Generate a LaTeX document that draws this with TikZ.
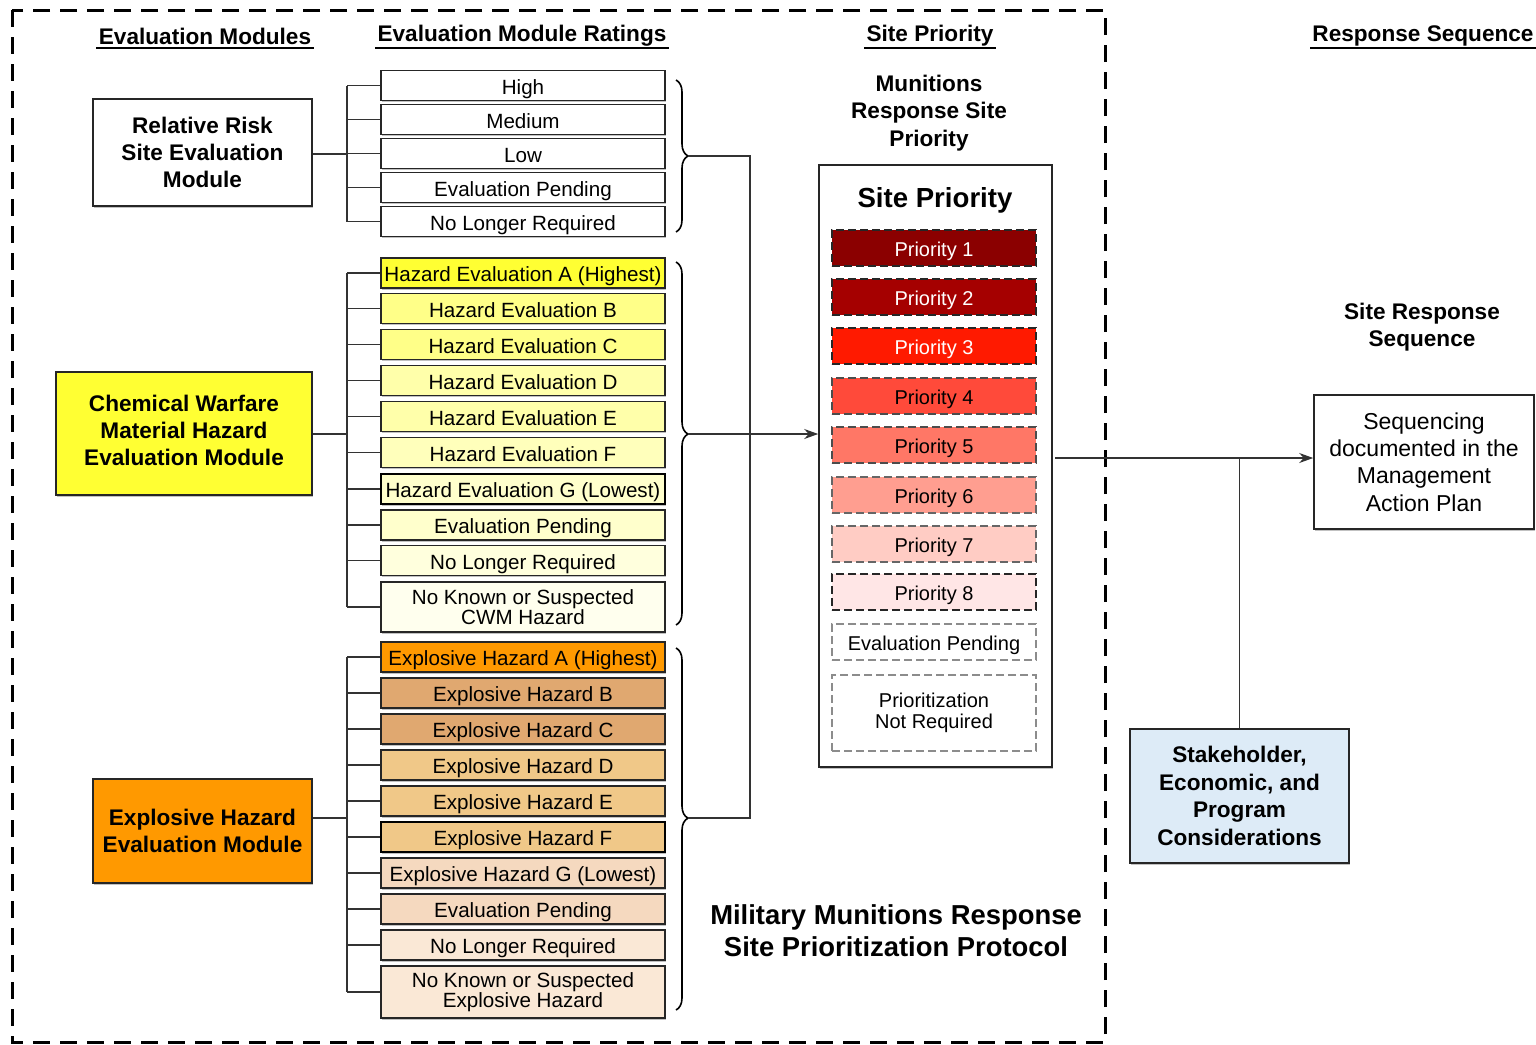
\documentclass[tikz,border=0pt]{standalone}
\usepackage{fontspec}
\setmainfont{Liberation Sans}
\usetikzlibrary{decorations.pathreplacing,arrows.meta,shadows,calc}
\definecolor{cwA}{HTML}{FFFF33}
\definecolor{cwB}{HTML}{FFFF88}
\definecolor{cwD}{HTML}{FFFFAA}
\definecolor{cwF}{HTML}{FFFFBB}
\definecolor{cwG}{HTML}{FFFFCC}
\definecolor{cwN}{HTML}{FFFFDD}
\definecolor{cwK}{HTML}{FFFFEE}
\definecolor{exA}{HTML}{FF9900}
\definecolor{exB}{HTML}{E0A870}
\definecolor{exD}{HTML}{F0C888}
\definecolor{exG}{HTML}{F5D9BF}
\definecolor{exN}{HTML}{FAE8D6}
\definecolor{pA}{HTML}{8B0000}
\definecolor{pB}{HTML}{A50000}
\definecolor{pC}{HTML}{FF1A00}
\definecolor{pD}{HTML}{FF4A3A}
\definecolor{pE}{HTML}{FF7766}
\definecolor{pF}{HTML}{FF9E90}
\definecolor{pG}{HTML}{FFCCC4}
\definecolor{pH}{HTML}{FFE6E6}
\definecolor{stk}{HTML}{DDEBF7}
\begin{document}
\begin{tikzpicture}[x=0.5pt,y=-0.5pt,
  rate/.style={draw=black!85, line width=0.6pt, minimum width=142pt, minimum height=15pt,
    inner sep=0pt, align=center, font=\fontsize{10.3}{10}\selectfont,
    drop shadow={shadow xshift=0.6pt,shadow yshift=-0.8pt,fill=black!40,opacity=0.6}},
  one/.style={text height=9.2pt, text depth=0.6pt},
  modbox/.style={draw=black!85, line width=0.8pt, inner sep=0pt, align=center,
    font=\bfseries\fontsize{11.3}{13.7}\selectfont,
    drop shadow={shadow xshift=0.6pt,shadow yshift=-0.8pt,fill=black!40,opacity=0.6}},
  modtext/.style={inner sep=0pt, align=center, font=\bfseries\fontsize{11.3}{13.7}\selectfont},
  prio/.style={draw=black!85, dash pattern=on 4pt off 2pt, line width=0.7pt, minimum width=102pt,
    minimum height=18pt, inner sep=0pt, align=center, font=\fontsize{10}{10.5}\selectfont},
  hdr/.style={font=\bfseries\fontsize{11.3}{13}\selectfont, inner sep=1pt},
  wire/.style={line width=0.8pt, draw=black!80},
  brc/.style={decorate, decoration={brace, amplitude=6pt}, line width=0.8pt},
  arr/.style={wire, -{Stealth[length=7pt,width=5pt]}}
]
\useasboundingbox (0,0) rectangle (1536,1044);
\fill[white] (0,0) rectangle (1536,1044);

% dashed frame
\draw[line width=1.5pt, dash pattern=on 8.5pt off 5pt] (12,10) rectangle (1105,1042);

% headers
\coordinate (ul) at (0,48);
\node[hdr] (h1) at (205,36) {Evaluation Modules};
\node[hdr] (h2) at (522,36) {Evaluation Module Ratings};
\node[hdr] (h3) at (930,36) {Site Priority};
\node[hdr] (h4) at (1423,36) {Response Sequence};
\foreach \h in {h1,h2,h3,h4} \draw[line width=0.8pt] (\h.west |- ul) -- (\h.east |- ul);

% modules
\node[modbox, fill=white, minimum width=109.5pt, minimum height=53.5pt] (rr) at (202.5,152.5) {Relative Risk\\Site Evaluation\\Module};
\node[modbox, fill=cwA, minimum width=128pt, minimum height=61.5pt] (cw) at (184,433.5) {};
\node[modtext] (cwt) at (184,430.5) {Chemical Warfare\\Material Hazard\\Evaluation Module};
\node[modbox, fill=exA, minimum width=109.5pt, minimum height=52pt] (eh) at (202.5,831) {Explosive Hazard\\Evaluation Module};

% group 1 ratings
\node[rate, one, fill=white] (g1a) at (523,85.5) {High};
\node[rate, one, fill=white] (g1b) at (523,119.5) {Medium};
\node[rate, one, fill=white] (g1c) at (523,153.5) {Low};
\node[rate, one, fill=white] (g1d) at (523,187.5) {Evaluation Pending};
\node[rate, one, fill=white] (g1e) at (523,221.5) {No Longer Required};

% group 2 ratings
\node[rate, one, fill=cwA] (g2a) at (523,273) {Hazard Evaluation A (Highest)};
\node[rate, one, fill=cwB] (g2b) at (523,308.5) {Hazard Evaluation B};
\node[rate, one, fill=cwB] (g2c) at (523,344.5) {Hazard Evaluation C};
\node[rate, one, fill=cwD] (g2d) at (523,380.5) {Hazard Evaluation D};
\node[rate, one, fill=cwD] (g2e) at (523,416.5) {Hazard Evaluation E};
\node[rate, one, fill=cwF] (g2f) at (523,452.5) {Hazard Evaluation F};
\node[rate, one, fill=cwG, line width=1pt, draw=black] (g2g) at (523,489) {Hazard Evaluation G (Lowest)};
\node[rate, one, fill=cwG] (g2h) at (523,525) {Evaluation Pending};
\node[rate, one, fill=cwN] (g2i) at (523,560.5) {No Longer Required};
\node[rate, fill=cwK, minimum height=25pt] (g2j) at (523,607) {No Known or Suspected\\CWM Hazard};

% group 3 ratings
\node[rate, one, fill=exA] (g3a) at (523,657) {Explosive Hazard A (Highest)};
\node[rate, one, fill=exB] (g3b) at (523,693) {Explosive Hazard B};
\node[rate, one, fill=exB] (g3c) at (523,729) {Explosive Hazard C};
\node[rate, one, fill=exD] (g3d) at (523,765) {Explosive Hazard D};
\node[rate, one, fill=exD] (g3e) at (523,801) {Explosive Hazard E};
\node[rate, one, fill=exD, line width=1pt, draw=black] (g3f) at (523,837) {Explosive Hazard F};
\node[rate, one, fill=exG] (g3g) at (523,873) {Explosive Hazard G (Lowest)};
\node[rate, one, fill=exG] (g3h) at (523,909) {Evaluation Pending};
\node[rate, one, fill=exN] (g3i) at (523,945) {No Longer Required};
\node[rate, fill=exN, minimum height=26pt] (g3j) at (523,992) {No Known or Suspected\\Explosive Hazard};

% buses
\coordinate (busx) at (347,0);
\coordinate (rrj) at (347,154);
\coordinate (cwj) at (347,434);
\coordinate (ehj) at (347,818);
\draw[wire] (g1a.west -| busx) -- (g1e.west -| busx);
\draw[wire] (g2a.west -| busx) -- (g2j.west -| busx);
\draw[wire] (g3a.west -| busx) -- (g3j.west -| busx);
\foreach \b in {g1a,g1b,g1c,g1d,g1e,g2a,g2b,g2c,g2d,g2e,g2f,g2g,g2h,g2i,g2j,g3a,g3b,g3c,g3d,g3e,g3f,g3g,g3h,g3i,g3j}
  \draw[wire] (\b.west -| busx) -- (\b.west);
\draw[wire] (rrj -| rr.east) -- (rrj);
\draw[wire] (cwj -| cw.east) -- (cwj);
\draw[wire] (ehj -| eh.east) -- (ehj);

% braces
\draw[brc, decoration={aspect=0.5}] (676,80) -- (676,232);
\draw[brc, decoration={aspect=0.474}] (676,262) -- (676,625);
\draw[brc, decoration={aspect=0.47}] (676,648) -- (676,1010);
\coordinate (t1) at (688,156);
\coordinate (t2) at (688,434);
\coordinate (t3) at (688,818);
\coordinate (jx) at (750,0);
\draw[wire] (t1) -- (t1 -| jx) -- (t3 -| jx) -- (t3);

% site priority
\node[font=\bfseries\fontsize{11.3}{13.6}\selectfont, align=center] (msp) at (929,113) {Munitions\\Response Site\\Priority};
\node[draw=black!85, line width=0.8pt, minimum width=116.5pt, minimum height=301pt, inner sep=0pt,
  drop shadow={shadow xshift=0.6pt,shadow yshift=-0.8pt,fill=black!40,opacity=0.6}, fill=white] (sp) at (935.5,466) {};
\node[font=\bfseries\fontsize{13.8}{16}\selectfont] (spt) at (935,200) {Site Priority};
\node[prio, one, fill=pA, text=white] (p1) at (934,248) {Priority 1};
\node[prio, one, fill=pB, text=white] (p2) at (934,297) {Priority 2};
\node[prio, one, fill=pC, text=white] (p3) at (934,346) {Priority 3};
\node[prio, one, fill=pD, draw=black!70] (p4) at (934,396) {Priority 4};
\node[prio, one, fill=pE, draw=black!70] (p5) at (934,445) {Priority 5};
\node[prio, one, fill=pF, draw=black!60] (p6) at (934,495) {Priority 6};
\node[prio, one, fill=pG, draw=black!60] (p7) at (934,544) {Priority 7};
\node[prio, one, fill=pH, draw=black!85] (p8) at (934,592) {Priority 8};
\node[prio, one, fill=white, draw=black!45] (p9) at (934,642) {Evaluation Pending};
\node[prio, fill=white, draw=black!45, minimum height=38pt] (p10) at (934,713) {Prioritization\\Not Required};
\draw[arr] (t2) -- (t2 -| sp.west);

% response sequence
\node[font=\bfseries\fontsize{11.3}{13.8}\selectfont, align=center] (srs) at (1422,327) {Site Response\\Sequence};
\node[modbox, font=\fontsize{11.5}{13.7}\selectfont, fill=white, minimum width=110pt, minimum height=67pt] (seq) at (1424,462) {Sequencing\\documented in the\\Management\\Action Plan};
\node[modbox, fill=stk, minimum width=109.5pt, minimum height=67pt] (sh) at (1239.5,796) {Stakeholder,\\Economic, and\\Program\\Considerations};
\coordinate (oy) at (0,458);
\coordinate (spo) at (1055,458);
\draw[arr] (spo) -- (oy -| seq.west);
\draw[wire] (sh.north) -- (sh.north |- oy);

% title
\node[font=\bfseries\fontsize{13.7}{16}\selectfont, align=center] (ttl) at (896,931) {Military Munitions Response\\Site Prioritization Protocol};
\end{tikzpicture}
\end{document}
